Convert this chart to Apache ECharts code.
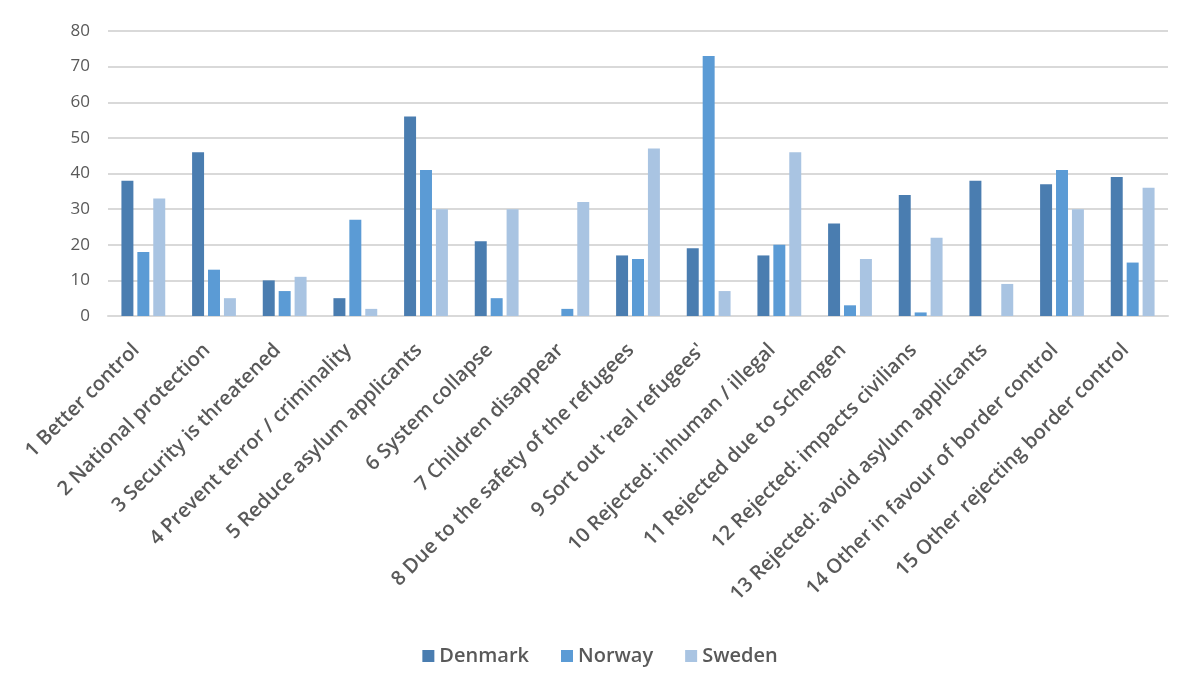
<!DOCTYPE html>
<html>
<head>
<meta charset="utf-8">
<script src="https://cdn.jsdelivr.net/npm/echarts@6/dist/echarts.min.js"></script>
<style>
  html, body { margin: 0; padding: 0; background: #fff; }
  #chart { width: 1200px; height: 700px; }
</style>
</head>
<body>
<div id="chart"></div>
<script>
// Reasons for / against border control, by country
const categories = [
    '1 Better control',
    '2 National protection',
    '3 Security is threatened',
    '4 Prevent terror / criminality',
    '5 Reduce asylum applicants',
    '6 System collapse',
    '7 Children disappear',
    '8 Due to the safety of the refugees',
    "9 Sort out 'real refugees'",
    '10 Rejected: inhuman / illegal',
    '11 Rejected due to Schengen',
    '12 Rejected: impacts civilians',
    '13 Rejected: avoid asylum applicants',
    "14 Other in favour of border control",
    '15 Other rejecting border control'
];
const denmark = [38, 46, 10, 5, 56, 21, 0, 17, 19, 17, 26, 34, 38, 37, 39];
const norway  = [18, 13, 7, 27, 41, 5, 2, 16, 73, 20, 3, 1, 0, 41, 15];
const sweden  = [33, 5, 11, 2, 30, 30, 32, 47, 7, 46, 16, 22, 9, 30, 36];
const yTicks = [0, 10, 20, 30, 40, 50, 60, 70, 80];

let chart = echarts.init(document.getElementById('chart'));

const txt = '#595959';

chart.setOption({
    color: ['#4a7db0', '#5b9bd5', '#a9c4e2'],
    textStyle: {
        fontFamily: '"Open Sans", Lato, sans-serif'
    },
    animation: false,
    grid: {
        left: 108,
        right: 32,
        top: 31,
        bottom: 384
    },
    legend: {
        bottom: 29,
        left: 'center',
        itemWidth: 12,
        itemHeight: 12,
        itemGap: 32,
        icon: 'rect',
        textStyle: { color: txt, fontSize: 20, fontWeight: 600 },
        data: ['Denmark', 'Norway', 'Sweden']
    },
    xAxis: {
        type: 'category',
        data: categories,
        axisTick: { show: false },
        axisLine: { lineStyle: { color: '#d9d9d9', width: 2 } },
        axisLabel: {
            rotate: 45,
            interval: 0,
            color: txt,
            fontSize: 20,
            fontWeight: 600,
            margin: 24,
            padding: [0, 10, 0, 0]
        }
    },
    yAxis: {
        type: 'value',
        min: yTicks[0],
        max: yTicks[yTicks.length - 1],
        interval: 10,
        axisLine: { show: false },
        axisTick: { show: false },
        axisLabel: { color: txt, fontSize: 17, margin: 18 },
        splitLine: { lineStyle: { color: '#d9d9d9', width: 2 } }
    },
    series: [
        { name: 'Denmark', type: 'bar', data: denmark, barGap: '33%', barCategoryGap: '38%' },
        { name: 'Norway', type: 'bar', data: norway, barGap: '33%', barCategoryGap: '38%' },
        { name: 'Sweden', type: 'bar', data: sweden, barGap: '33%', barCategoryGap: '38%' }
    ]
});
</script>
</body>
</html>
